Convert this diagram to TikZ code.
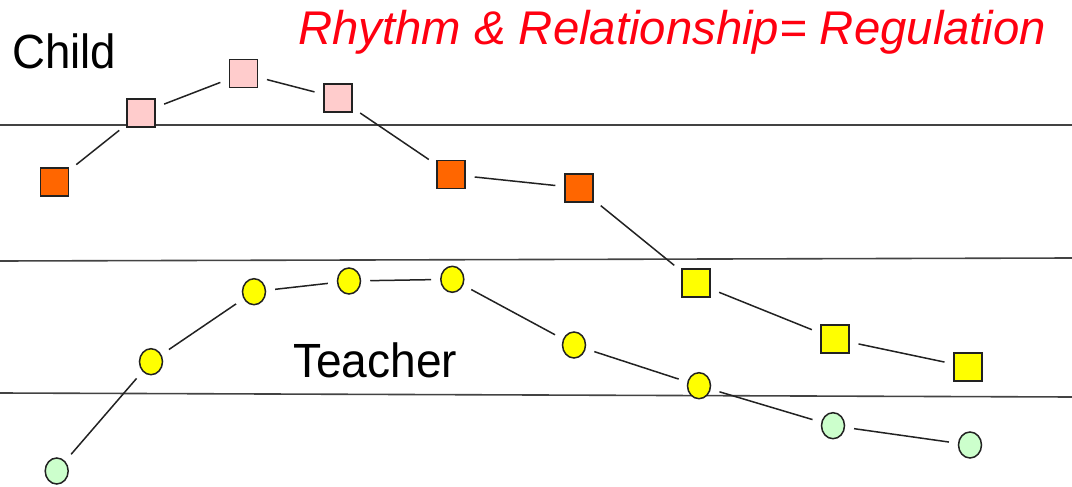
\documentclass[tikz,border=0pt]{standalone}
\usepackage{fontspec}
\setmainfont{Liberation Sans}
\usetikzlibrary{shapes.geometric}
\definecolor{pinkfill}{HTML}{FFCCCC}
\definecolor{orangefill}{HTML}{FF6600}
\definecolor{yellowfill}{HTML}{FFFF00}
\definecolor{greenfill}{HTML}{CCFFCC}
\definecolor{titlered}{HTML}{FF0010}
\definecolor{edge}{HTML}{222222}
\tikzset{
  sq/.style={draw=edge, line width=1.5pt, rectangle, minimum width=28pt, minimum height=28pt, inner sep=0pt},
  ov/.style={draw=edge, line width=1.5pt, ellipse, minimum width=23pt, minimum height=26pt, inner sep=0pt},
  link/.style={draw=edge, line width=1.5pt, shorten <=9pt, shorten >=9pt},
  rule/.style={draw=edge!85, line width=1.6pt},
  lbl/.style={anchor=base west, inner sep=0pt, font=\fontsize{48}{48}\selectfont}
}
\begin{document}
\begin{tikzpicture}[x=1pt,y=-1pt]
\useasboundingbox (0,0) rectangle (1072,487);
% guide lines
\draw[rule] (0,125) -- (1072,125);
\draw[rule] (0,261) -- (1072,258);
\draw[rule] (0,393) -- (1072,397);
% texts
\node[lbl] (child) at (12,69) {\scalebox{0.95}[1]{Child}};
\node[lbl] (teacher) at (293,377) {\scalebox{0.96}[1]{Teacher}};
\node[anchor=base west, inner sep=0pt, text=titlered, font=\fontsize{47.3}{47.3}\selectfont\itshape] (title) at (298,45) {Rhythm \& Relationship= Regulation};
% child squares
\node[sq, fill=orangefill] (s1) at (54.5,182) {};
\node[sq, fill=pinkfill] (s2) at (141,113) {};
\node[sq, fill=pinkfill] (s3) at (243.5,73.5) {};
\node[sq, fill=pinkfill] (s4) at (338,98) {};
\node[sq, fill=orangefill] (s5) at (451,174.5) {};
\node[sq, fill=orangefill] (s6) at (579,188) {};
\node[sq, fill=yellowfill] (s7) at (696,283) {};
\node[sq, fill=yellowfill] (s8) at (835,339) {};
\node[sq, fill=yellowfill] (s9) at (968,367) {};
% teacher circles
\node[ov, fill=greenfill] (c1) at (56.7,471) {};
\node[ov, fill=yellowfill] (c2) at (151,361.7) {};
\node[ov, fill=yellowfill] (c3) at (254,291.7) {};
\node[ov, fill=yellowfill] (c4) at (349,281) {};
\node[ov, fill=yellowfill] (c5) at (452.3,279.3) {};
\node[ov, fill=yellowfill] (c6) at (574,345) {};
\node[ov, fill=yellowfill] (c7) at (699,385.7) {};
\node[ov, fill=greenfill] (c8) at (833,425.7) {};
\node[ov, fill=greenfill] (c9) at (970,445) {};
% connectors
\foreach \a/\b in {s1/s2,s2/s3,s3/s4,s4/s5,s5/s6,s6/s7,s7/s8,s8/s9,c1/c2,c2/c3,c3/c4,c4/c5,c5/c6,c6/c7,c7/c8,c8/c9}
  \draw[link] (\a) -- (\b);
\end{tikzpicture}
\end{document}
